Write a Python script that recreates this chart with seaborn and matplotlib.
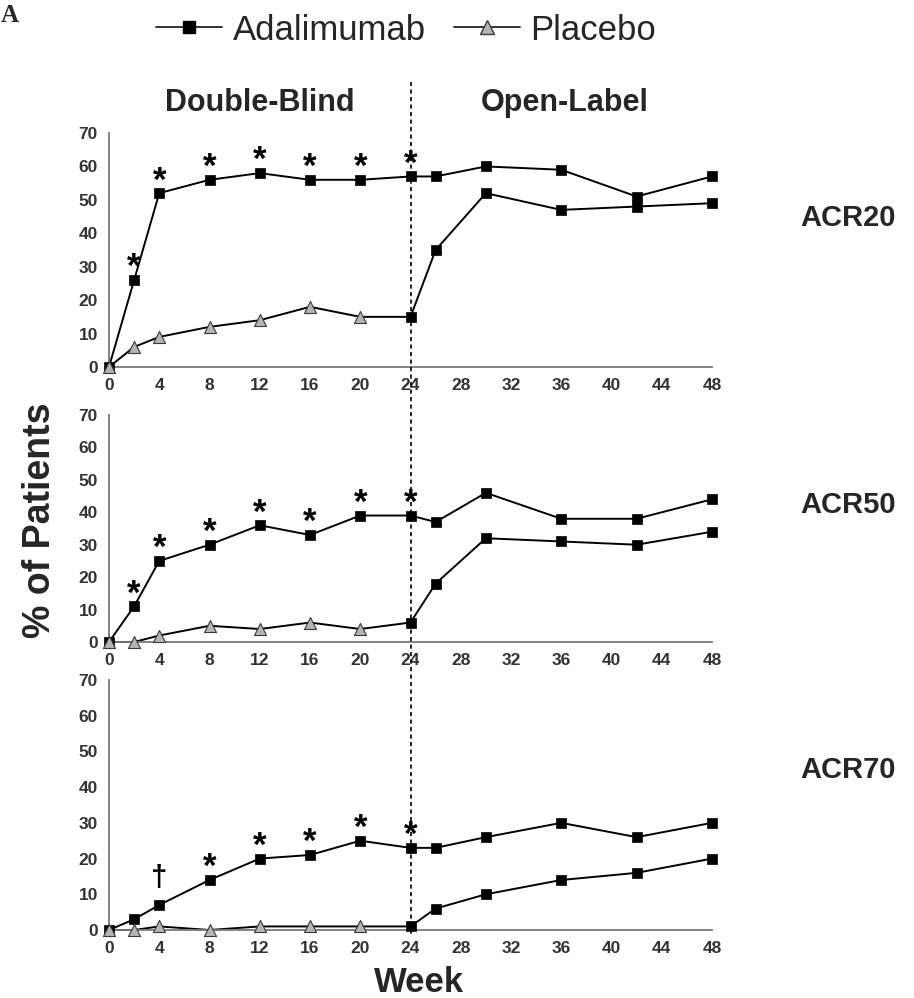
import numpy as np
import pandas as pd
import matplotlib
matplotlib.use("Agg")
import matplotlib.pyplot as plt
import matplotlib.transforms as mtransforms
from matplotlib.lines import Line2D
import seaborn as sns

# Study weeks at which response was assessed
weeks = [0, 2, 4, 8, 12, 16, 20, 24, 26, 30, 36, 42, 48]
x_ticks = list(range(0, 49, 4))
y_ticks = list(range(0, 71, 10))
switch_week = 24  # end of double-blind period, start of open-label adalimumab

endpoints = ["ACR20", "ACR50", "ACR70"]
arms = ["Adalimumab", "Placebo"]

# % of patients responding
acr20_adalimumab = [0, 26, 52, 56, 58, 56, 56, 57, 57, 60, 59, 51, 57]
acr20_placebo = [0, 6, 9, 12, 14, 18, 15, 15, 35, 52, 47, 48, 49]
acr50_adalimumab = [0, 11, 25, 30, 36, 33, 39, 39, 37, 46, 38, 38, 44]
acr50_placebo = [0, 0, 2, 5, 4, 6, 4, 6, 18, 32, 31, 30, 34]
acr70_adalimumab = [0, 3, 7, 14, 20, 21, 25, 23, 23, 26, 30, 26, 30]
acr70_placebo = [0, 0, 1, 0, 1, 1, 1, 1, 6, 10, 14, 16, 20]

# Significance markers (adalimumab vs placebo) during the double-blind period
acr20_sig_weeks = [2, 4, 8, 12, 16, 20, 24]
acr20_sig_marks = ["*", "*", "*", "*", "*", "*", "*"]
acr50_sig_weeks = [2, 4, 8, 12, 16, 20, 24]
acr50_sig_marks = ["*", "*", "*", "*", "*", "*", "*"]
acr70_sig_weeks = [4, 8, 12, 16, 20, 24]
acr70_sig_marks = ["\u2020", "*", "*", "*", "*", "*"]

sns.set_style("white")
plt.rcParams["font.family"] = ["Liberation Sans", "DejaVu Sans"]

W, H = 914, 998
fig = plt.figure(figsize=(W / 100, H / 100), dpi=100)

def fx(px):
    return px / W

def fy(px):
    return 1 - px / H

left, right = 109, 712
panel_px = [(133, 367), (415, 642), (680, 930)]
axes = []
for top, bottom in panel_px:
    ax = fig.add_axes([fx(left), fy(bottom), fx(right - left), (bottom - top) / H])
    axes.append(ax)

panels = [
    (acr20_adalimumab, acr20_placebo, acr20_sig_weeks, acr20_sig_marks),
    (acr50_adalimumab, acr50_placebo, acr50_sig_weeks, acr50_sig_marks),
    (acr70_adalimumab, acr70_placebo, acr70_sig_weeks, acr70_sig_marks),
]

spine_color = "#7a7a7a"
tick_color = "#333333"

for ax, name, (ada, pbo, sig_weeks, sig_marks) in zip(axes, endpoints, panels):
    n = len(weeks)
    df = pd.DataFrame({
        "week": weeks * 2,
        "pct": ada + pbo,
        "arm": [arms[0]] * n + [arms[1]] * n,
    })
    # placebo patients switch to adalimumab after the blinded phase
    df["symbol"] = np.where((df["arm"] == "Placebo") & (df["week"] < switch_week),
                            "triangle", "square")

    sns.lineplot(data=df, x="week", y="pct", hue="arm",
                 palette={"Adalimumab": "black", "Placebo": "black"},
                 estimator=None, lw=1.4, legend=False, ax=ax, clip_on=False, zorder=2)
    sq = df[df["symbol"] == "square"]
    tri = df[df["symbol"] == "triangle"]
    sns.scatterplot(data=sq, x="week", y="pct", marker="s", s=62, color="black",
                    edgecolor="black", linewidth=0.5, ax=ax, clip_on=False, zorder=3,
                    legend=False)
    sns.scatterplot(data=tri, x="week", y="pct", marker="^", s=75, color="#b4b4b4",
                    edgecolor="#3a3a3a", linewidth=0.8, ax=ax, clip_on=False, zorder=4,
                    legend=False)

    ada_lookup = dict(zip(weeks, ada))
    for wk, mk in zip(sig_weeks, sig_marks):
        if mk == "*":
            ax.annotate(mk, xy=(wk, ada_lookup[wk]), xytext=(0, 2),
                        textcoords="offset points", ha="center", va="baseline",
                        fontsize=25, fontweight="bold", color="black")
        else:
            ax.annotate(mk, xy=(wk, ada_lookup[wk]), xytext=(0, 14),
                        textcoords="offset points", ha="center", va="baseline",
                        fontsize=21, fontweight="bold", color="black")

    ax.set_xlim(0, 48)
    ax.set_ylim(0, 70)
    ax.set_xticks(x_ticks)
    ax.set_yticks(y_ticks)
    ax.set_xlabel("")
    ax.set_ylabel("")
    sns.despine(ax=ax)
    for side in ("left", "bottom"):
        ax.spines[side].set_color(spine_color)
        ax.spines[side].set_linewidth(1.3)
    ax.tick_params(direction="out", length=5, width=1.1, color=spine_color,
                   labelsize=12.5, labelcolor=tick_color, pad=3)
    for lab in ax.get_xticklabels() + ax.get_yticklabels():
        lab.set_fontweight("bold")

# Endpoint labels at the right of each panel
label_y = [218, 505, 770]
for name, yy in zip(endpoints, label_y):
    fig.text(fx(848), fy(yy), name, ha="center", va="center",
             fontsize=21, fontweight="bold")

# Dashed separator between double-blind and open-label periods
trans = mtransforms.blended_transform_factory(axes[0].transData, fig.transFigure)
fig.add_artist(Line2D([switch_week, switch_week], [fy(82), fy(936)], transform=trans,
                      color="black", lw=1.2, ls=(0, (2.5, 2.0))))

fig.text(fx(260), fy(103), "Double-Blind", ha="center", va="center",
         fontsize=22, fontweight="bold")
fig.text(fx(565), fy(103), "Open-Label", ha="center", va="center",
         fontsize=22, fontweight="bold")

fig.text(fx(40), fy(520), "% of Patients", ha="center", va="center",
         rotation=90, fontsize=27, fontweight="bold")
fig.text(fx(419), fy(982), "Week", ha="center", va="center",
         fontsize=25, fontweight="bold")

fig.text(fx(1), fy(16), "A", ha="left", va="center", fontsize=18,
         fontweight="bold", family=["Liberation Serif", "DejaVu Serif"])

handles = [
    Line2D([], [], color="#333333", lw=1.4, marker="s", markersize=8,
           markerfacecolor="black", markeredgecolor="black"),
    Line2D([], [], color="#333333", lw=1.4, marker="^", markersize=10,
           markerfacecolor="#b4b4b4", markeredgecolor="#3a3a3a"),
]
fig.legend(handles, arms, loc="center", bbox_to_anchor=(fx(406), fy(30)), ncol=2,
           frameon=False, fontsize=25, handlelength=1.9, handletextpad=0.3,
           columnspacing=0.8, borderpad=0.2)

fig.savefig("out.png", dpi=100)
